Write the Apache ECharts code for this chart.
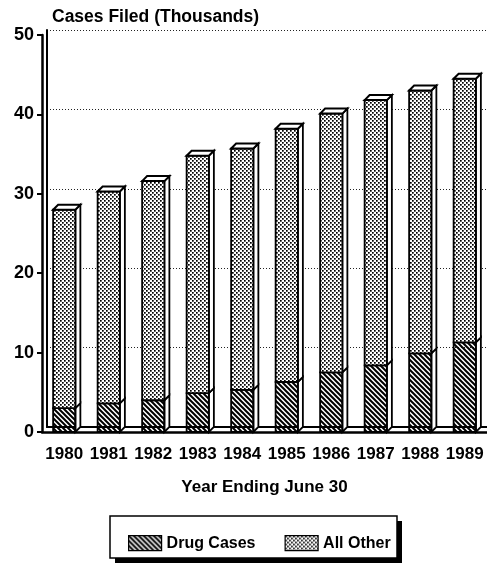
<!DOCTYPE html>
<html>
<head>
<meta charset="utf-8">
<script src="https://cdn.jsdelivr.net/npm/echarts@6/dist/echarts.min.js"></script>
<style>
  html, body { margin: 0; padding: 0; background: #fff; }
  #main { width: 487px; height: 572px; }
</style>
</head>
<body>
<div id="main"></div>
<script>
// data (thousands of cases)
var years = ['1980', '1981', '1982', '1983', '1984', '1985', '1986', '1987', '1988', '1989'];
var drugCases = [3.0, 3.6, 4.0, 4.9, 5.3, 6.3, 7.5, 8.4, 9.9, 11.3];
var allOther = [25.0, 26.7, 27.6, 29.9, 30.4, 31.9, 32.6, 33.4, 33.1, 33.2];
var yMin = 0, yMax = 50, yStep = 10;

var FONT = '"Liberation Sans", Arial, sans-serif';

// fill patterns
function makeHatch() {
  var c = document.createElement('canvas');
  c.width = 5; c.height = 5;
  var g = c.getContext('2d');
  g.strokeStyle = '#000';
  g.lineWidth = 2;
  g.beginPath();
  g.moveTo(-1, -1); g.lineTo(6, 6);
  g.moveTo(-1, 4); g.lineTo(1, 6);
  g.moveTo(4, -1); g.lineTo(6, 1);
  g.stroke();
  return c;
}
function makeDots() {
  var c = document.createElement('canvas');
  c.width = 4; c.height = 4;
  var g = c.getContext('2d');
  g.fillStyle = '#fff';
  g.fillRect(0, 0, 4, 4);
  g.fillStyle = '#000';
  g.fillRect(0, 0, 1.7, 1.7);
  g.fillRect(2, 2, 1.7, 1.7);
  return c;
}
var hatch = { image: makeHatch(), repeat: 'repeat' };
var dots = { image: makeDots(), repeat: 'repeat' };

var depth = 5;

function barItem(fill, withTop) {
  return function (params, api) {
    var lo = api.coord([api.value(0), api.value(1)]);
    var hi = api.coord([api.value(0), api.value(2)]);
    var bw = api.size([1, 0])[0] * 0.5;
    var x0 = lo[0] - bw / 2, x1 = lo[0] + bw / 2;
    var yb = lo[1], yt = hi[1], d = depth;
    var kids = [
      { type: 'polygon', shape: { points: [[x1, yt], [x1 + d, yt - d], [x1 + d, yb - d], [x1, yb]] },
        style: { fill: '#fff', stroke: '#000', lineWidth: 1.8 } },
      { type: 'rect', shape: { x: x0, y: yt, width: bw, height: yb - yt },
        style: { fill: fill, stroke: '#000', lineWidth: 1.8 } }
    ];
    if (withTop) {
      kids.push({ type: 'polygon', shape: { points: [[x0, yt], [x0 + d, yt - d], [x1 + d, yt - d], [x1, yt]] },
        style: { fill: '#fff', stroke: '#000', lineWidth: 2 } });
    }
    return { type: 'group', children: kids };
  };
}

var drugData = [], otherData = [];
for (var i = 0; i < years.length; i++) {
  drugData.push([i, 0, drugCases[i]]);
  otherData.push([i, drugCases[i], drugCases[i] + allOther[i]]);
}

var myChart = echarts.init(document.getElementById('main'));

var option = {
  animation: false,
  backgroundColor: '#fff',
  title: {
    text: 'Cases Filed (Thousands)',
    left: 47, top: 3,
    textStyle: { fontFamily: FONT, fontSize: 17.5, fontWeight: 'bold', color: '#000' }
  },
  grid: [
    { left: 42, right: 0, top: 35, bottom: 140 },
    { left: 47, right: -5, top: 30, bottom: 145 }
  ],
  xAxis: [
    {
      type: 'category', data: years, gridIndex: 0,
      name: 'Year Ending June 30', nameLocation: 'middle', nameGap: 47,
      nameTextStyle: { fontFamily: FONT, fontSize: 17, fontWeight: 'bold', color: '#000' },
      axisLine: { lineStyle: { color: '#000', width: 2.5 } },
      axisTick: { alignWithLabel: true, length: 9, lineStyle: { color: '#000', width: 2 } },
      axisLabel: { interval: 0, margin: 14, fontFamily: FONT, fontSize: 17, fontWeight: 'bold', color: '#000' }
    },
    {
      type: 'category', data: years, gridIndex: 1, position: 'top',
      axisLine: { lineStyle: { color: '#000', width: 2 } },
      axisTick: { show: false }, axisLabel: { show: false }
    },
    {
      type: 'category', data: years, gridIndex: 1, position: 'bottom',
      axisLine: { lineStyle: { color: '#000', width: 1.5 } },
      axisTick: { show: false }, axisLabel: { show: false }
    }
  ],
  yAxis: [
    {
      type: 'value', gridIndex: 0, min: yMin, max: yMax, interval: yStep,
      axisLine: { show: true, lineStyle: { color: '#000', width: 2.5 } },
      axisTick: { show: true, length: 5, lineStyle: { color: '#000', width: 2 } },
      axisLabel: { margin: 8, fontFamily: FONT, fontSize: 18, fontWeight: 'bold', color: '#000' },
      splitLine: { show: false }
    },
    {
      type: 'value', gridIndex: 1, min: yMin, max: yMax, interval: yStep,
      axisLine: { show: true, lineStyle: { color: '#000', width: 2 } },
      axisTick: { show: false }, axisLabel: { show: false },
      splitLine: { show: true, lineStyle: { color: '#222', width: 1, type: [1, 2] } }
    }
  ],
  legend: {
    left: 123, top: 530,
    itemWidth: 33, itemHeight: 15, itemGap: 29,
    textStyle: { fontFamily: FONT, fontSize: 16, fontWeight: 'bold', color: '#000' },
    data: [
      { name: 'Drug Cases', icon: 'rect', itemStyle: { color: hatch, borderColor: '#000', borderWidth: 1.2 } },
      { name: 'All Other', icon: 'rect', itemStyle: { color: dots, borderColor: '#000', borderWidth: 1.2 } }
    ]
  },
  graphic: [
    { type: 'rect', z: -1, shape: { x: 115, y: 521, width: 287, height: 42 }, style: { fill: '#000' } },
    { type: 'rect', z: 0, shape: { x: 110, y: 516, width: 287, height: 42 },
      style: { fill: '#fff', stroke: '#000', lineWidth: 1.5 } }
  ],
  series: [
    {
      name: 'Drug Cases', type: 'custom', xAxisIndex: 0, yAxisIndex: 0,
      itemStyle: { color: hatch }, renderItem: barItem(hatch, false),
      encode: { x: 0, y: [1, 2] }, data: drugData, z: 3
    },
    {
      name: 'All Other', type: 'custom', xAxisIndex: 0, yAxisIndex: 0,
      itemStyle: { color: dots }, renderItem: barItem(dots, true),
      encode: { x: 0, y: [1, 2] }, data: otherData, z: 4
    }
  ]
};

myChart.setOption(option);
</script>
</body>
</html>
